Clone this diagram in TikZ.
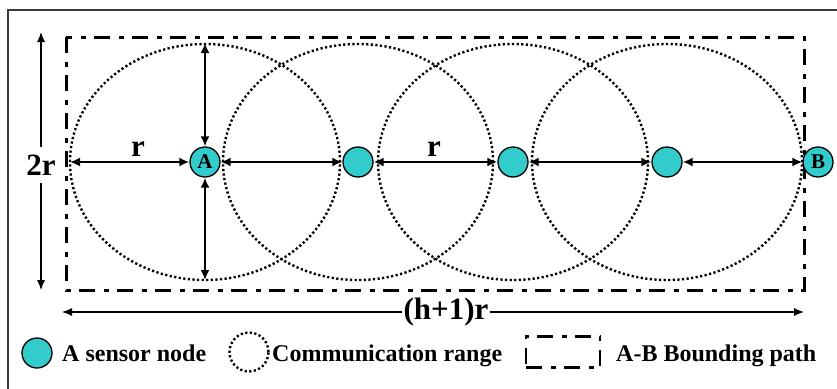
\documentclass[tikz,border=0pt]{standalone}
\usepackage{fontspec}
\setmainfont{Liberation Serif}
\usetikzlibrary{arrows.meta}
\definecolor{tuerkis}{HTML}{33CCCC}
\definecolor{rahmen}{HTML}{3A3A3A}
\tikzset{
  knoten/.style={circle,draw=black,line width=1.3pt,fill=tuerkis,minimum size=30pt,inner sep=0pt,font=\fontsize{21}{21}\selectfont\bfseries},
  reichw/.style={black,line width=2.4pt,dash pattern=on 2.2pt off 2.4pt},
  grenze/.style={black,line width=3pt,dash pattern=on 16pt off 8.5pt on 5pt off 8.5pt},
  pfeil/.style={{Latex[length=10pt,width=9pt]}-{Latex[length=10pt,width=9pt]},line width=1.9pt},
  mass/.style={-{Latex[length=10pt,width=8pt]},line width=1.1pt},
  masstext/.style={font=\fontsize{31}{31}\selectfont\bfseries,inner sep=1pt},
  legtext/.style={font=\fontsize{24}{24}\selectfont\bfseries,anchor=base west,inner sep=0pt},
}
\begin{document}
\begin{tikzpicture}[x=1pt,y=-1pt]
  \useasboundingbox (0,0) rectangle (837,388);
  % --- Rahmen ---
  \draw[rahmen,line width=1.3pt] (8,10) rectangle (850,400);
  % --- Grenze A-B ---
  \draw[grenze] (66,37) rectangle (804,290);
  % --- Reichweite ---
  \coordinate (pA) at (205,162);
  \coordinate (p2) at (358,162);
  \coordinate (p3) at (513,162);
  \coordinate (p4) at (667,162);
  \coordinate (pB) at (818,162);
  \foreach \k in {pA,p2,p3,p4}
    \draw[reichw] (\k) ellipse [x radius=135pt,y radius=118pt];
  % --- Sensorknoten ---
  \node[knoten] (A) at (pA) {A};
  \node[knoten] (n2) at (p2) {};
  \node[knoten] (n3) at (p3) {};
  \node[knoten] (n4) at (p4) {};
  \node[knoten] (B) at (pB) {B};
  % --- Pfeile ---
  \coordinate (links) at (70,162);
  \coordinate (oben) at (205,43);
  \coordinate (unten) at (205,280);
  \draw[pfeil] (links) -- (A);
  \draw[pfeil] (A) -- (oben);
  \draw[pfeil] (A) -- (unten);
  \foreach \a/\b in {A/n2,n2/n3,n3/n4,n4/B}
    \draw[pfeil] (\a) -- (\b);
  \node[masstext] (r1) at (138,149) {r};
  \node[masstext] (r2) at (434,149) {r};
  % --- Masse ---
  \node[masstext,inner ysep=8pt] (zweir) at (41,165) {2r};
  \coordinate (zo) at (41,32);
  \coordinate (zu) at (41,290);
  \draw[mass] (zweir) -- (zo);
  \draw[mass] (zweir) -- (zu);
  \node[masstext] (hr) at (446,312) {(h+1)r};
  \coordinate (hl) at (62,312);
  \coordinate (hre) at (804,312);
  \draw[mass] (hr) -- (hl);
  \draw[mass] (hr) -- (hre);
  % --- Legende ---
  \node[knoten] (legs) at (37,353) {};
  \node[legtext] (legst) at (62,361) {A sensor node};
  \node[circle,reichw,draw,minimum size=39pt,inner sep=0pt] (legr) at (249,352) {};
  \node[legtext] (legrt) at (272,361) {Communication range};
  \node[draw,grenze,line width=2.5pt,minimum width=74pt,minimum height=31pt,inner sep=0pt] (legg) at (563,352) {};
  \node[legtext] (leggt) at (616,361) {A-B Bounding path};
\end{tikzpicture}
\end{document}
